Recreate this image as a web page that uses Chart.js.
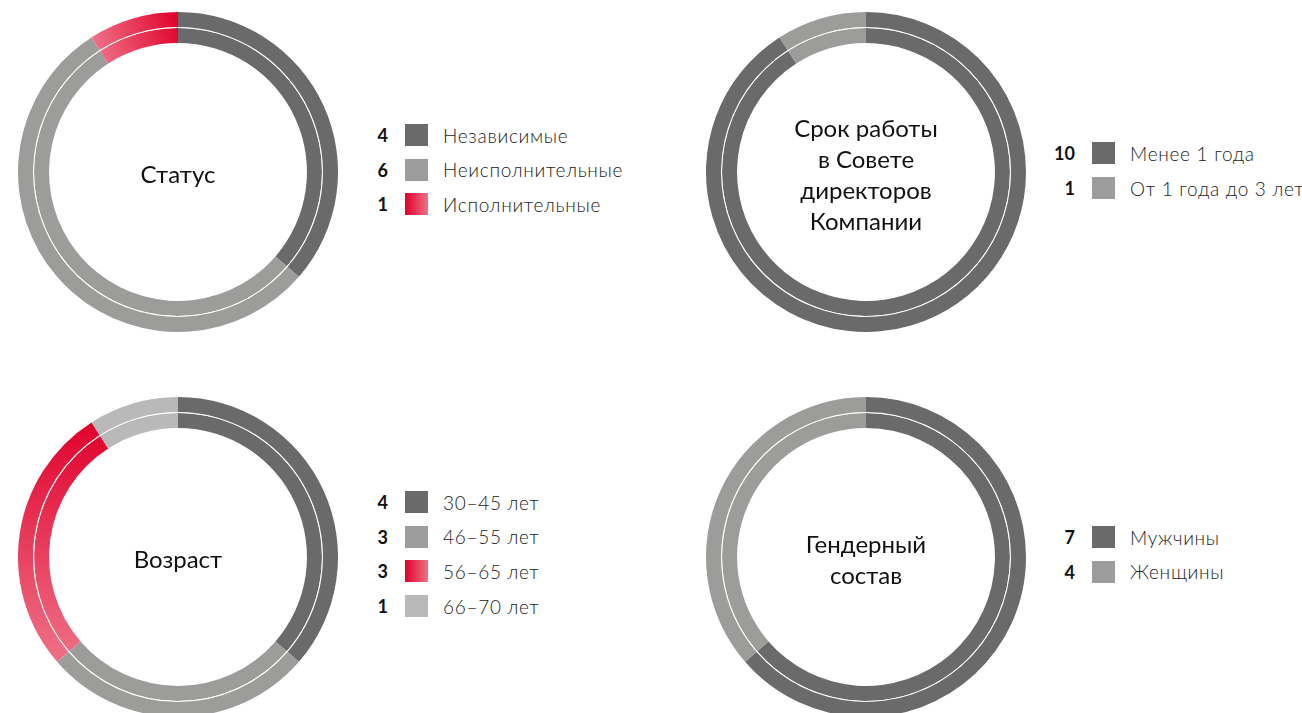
<!DOCTYPE html>
<html lang="ru">
<head>
<meta charset="utf-8">
<title>Совет директоров</title>
<script src="https://cdn.jsdelivr.net/npm/chart.js@4.4.1/dist/chart.umd.min.js"></script>
<style>
  html, body { margin: 0; padding: 0; background: #fff; }
  body {
    width: 1302px; height: 713px; overflow: hidden; position: relative;
    font-family: Lato, "Noto Sans", sans-serif; color: #111;
  }
  .ring { position: absolute; width: 320px; height: 320px; }
  .ring canvas { position: absolute; left: 0; top: 0; }
  .title {
    position: absolute; left: 0; top: 0; width: 320px; height: 320px;
    display: flex; align-items: center; justify-content: center;
    text-align: center; font-size: 24px; line-height: 31px;
    padding-top: 3px; box-sizing: border-box; pointer-events: none;
  }
  .legend { position: absolute; }
  .row { position: absolute; left: 0; display: flex; align-items: center; height: 22px; white-space: nowrap; }
  .num { width: 40px; text-align: right; font-weight: 700; font-size: 18px; }
  .sw { width: 23px; height: 22px; margin-left: 17px; }
  .lbl { margin-left: 15px; font-weight: 300; font-size: 19px; letter-spacing: 0.7px; color: #1c1c1c; }
</style>
</head>
<body>
<script>
// Состав Совета директоров
const statusLabels = ['Независимые', 'Неисполнительные', 'Исполнительные'];
const statusValues = [4, 6, 1];

const tenureLabels = ['Менее 1 года', 'От 1 года до 3 лет'];
const tenureValues = [10, 1];

const ageLabels = ['30–45 лет', '46–55 лет', '56–65 лет', '66–70 лет'];
const ageValues = [4, 3, 3, 1];

const genderLabels = ['Мужчины', 'Женщины'];
const genderValues = [7, 4];

const DARK = '#6a6a6a';
const MID = '#9c9c9b';
const LIGHT = '#b8b9b8';
const RED = '#e0002b';
const PINK = '#ef7187';

// 'grad' — красный сегмент с градиентом
const blocks = [
    { title: ['Статус'], labels: statusLabels, values: statusValues,
      colors: [DARK, MID, 'grad'], cx: 178, cy: 172, swX: 405, rowY: 135, step: 34.5 },
    { title: ['Срок работы', 'в Совете', 'директоров', 'Компании'], labels: tenureLabels, values: tenureValues,
      colors: [DARK, MID], cx: 866, cy: 172, swX: 1092, rowY: 153, step: 35 },
    { title: ['Возраст'], labels: ageLabels, values: ageValues,
      colors: [DARK, MID, 'grad', LIGHT], cx: 178, cy: 557, swX: 405, rowY: 502, step: 34.7 },
    { title: ['Гендерный', 'состав'], labels: genderLabels, values: genderValues,
      colors: [DARK, MID], cx: 866, cy: 557, swX: 1092, rowY: 537, step: 34.5 }
];

// градиент вдоль дуги: от начала сегмента (розовый) к концу (красный)
function arcGradient(context) {
    const chart = context.chart;
    const area = chart.chartArea;
    if (!area) return RED;
    const values = context.dataset.data;
    const i = context.dataIndex;
    const total = values.reduce((a, b) => a + b, 0);
    const before = values.slice(0, i).reduce((a, b) => a + b, 0);
    const a0 = -Math.PI / 2 + 2 * Math.PI * before / total;
    const a1 = a0 + 2 * Math.PI * values[i] / total;
    const cx = (area.left + area.right) / 2;
    const cy = (area.top + area.bottom) / 2;
    const r = Math.min(area.width, area.height) / 2;
    const g = chart.ctx.createLinearGradient(
        cx + r * Math.cos(a0), cy + r * Math.sin(a0),
        cx + r * Math.cos(a1), cy + r * Math.sin(a1)
    );
    g.addColorStop(0, PINK);
    g.addColorStop(1, RED);
    return g;
}

function ringDataset(b, weight) {
    return {
        data: b.values,
        weight,
        borderWidth: 0,
        backgroundColor: (ctx) => {
            const c = b.colors[ctx.dataIndex];
            return c === 'grad' ? arcGradient(ctx) : c;
        }
    };
}

blocks.forEach((b) => {
    const wrap = document.createElement('div');
    wrap.className = 'ring';
    wrap.style.left = (b.cx - 160) + 'px';
    wrap.style.top = (b.cy - 160) + 'px';
    const canvas = document.createElement('canvas');
    canvas.width = 320;
    canvas.height = 320;
    wrap.appendChild(canvas);
    const title = document.createElement('div');
    title.className = 'title';
    title.innerHTML = b.title.join('<br>');
    wrap.appendChild(title);
    document.body.appendChild(wrap);

    new Chart(canvas, {
        type: 'doughnut',
        data: {
            labels: b.labels,
            datasets: [
                ringDataset(b, 15),
                // тонкая белая линия между кольцами
                { data: [1], weight: 1, borderWidth: 0, backgroundColor: '#ffffff' },
                ringDataset(b, 15)
            ]
        },
        options: {
            responsive: false,
            animation: false,
            events: [],
            cutout: '80.6%',
            hoverOffset: 0,
            layout: { padding: 0 },
            plugins: {
                legend: { display: false },
                tooltip: { enabled: false }
            }
        }
    });

    // легенда: число, цветной квадрат, подпись
    const legend = document.createElement('div');
    legend.className = 'legend';
    legend.style.left = (b.swX - 57) + 'px';
    legend.style.top = '0px';
    b.labels.forEach((label, i) => {
        const row = document.createElement('div');
        row.className = 'row';
        row.style.top = (b.rowY + i * b.step - 11) + 'px';
        const num = document.createElement('span');
        num.className = 'num';
        num.textContent = b.values[i];
        const sw = document.createElement('span');
        sw.className = 'sw';
        const c = b.colors[i];
        sw.style.background = c === 'grad' ? `linear-gradient(to right, ${RED}, ${PINK})` : c;
        const lbl = document.createElement('span');
        lbl.className = 'lbl';
        lbl.textContent = label;
        row.append(num, sw, lbl);
        legend.appendChild(row);
    });
    document.body.appendChild(legend);
});
</script>
</body>
</html>
